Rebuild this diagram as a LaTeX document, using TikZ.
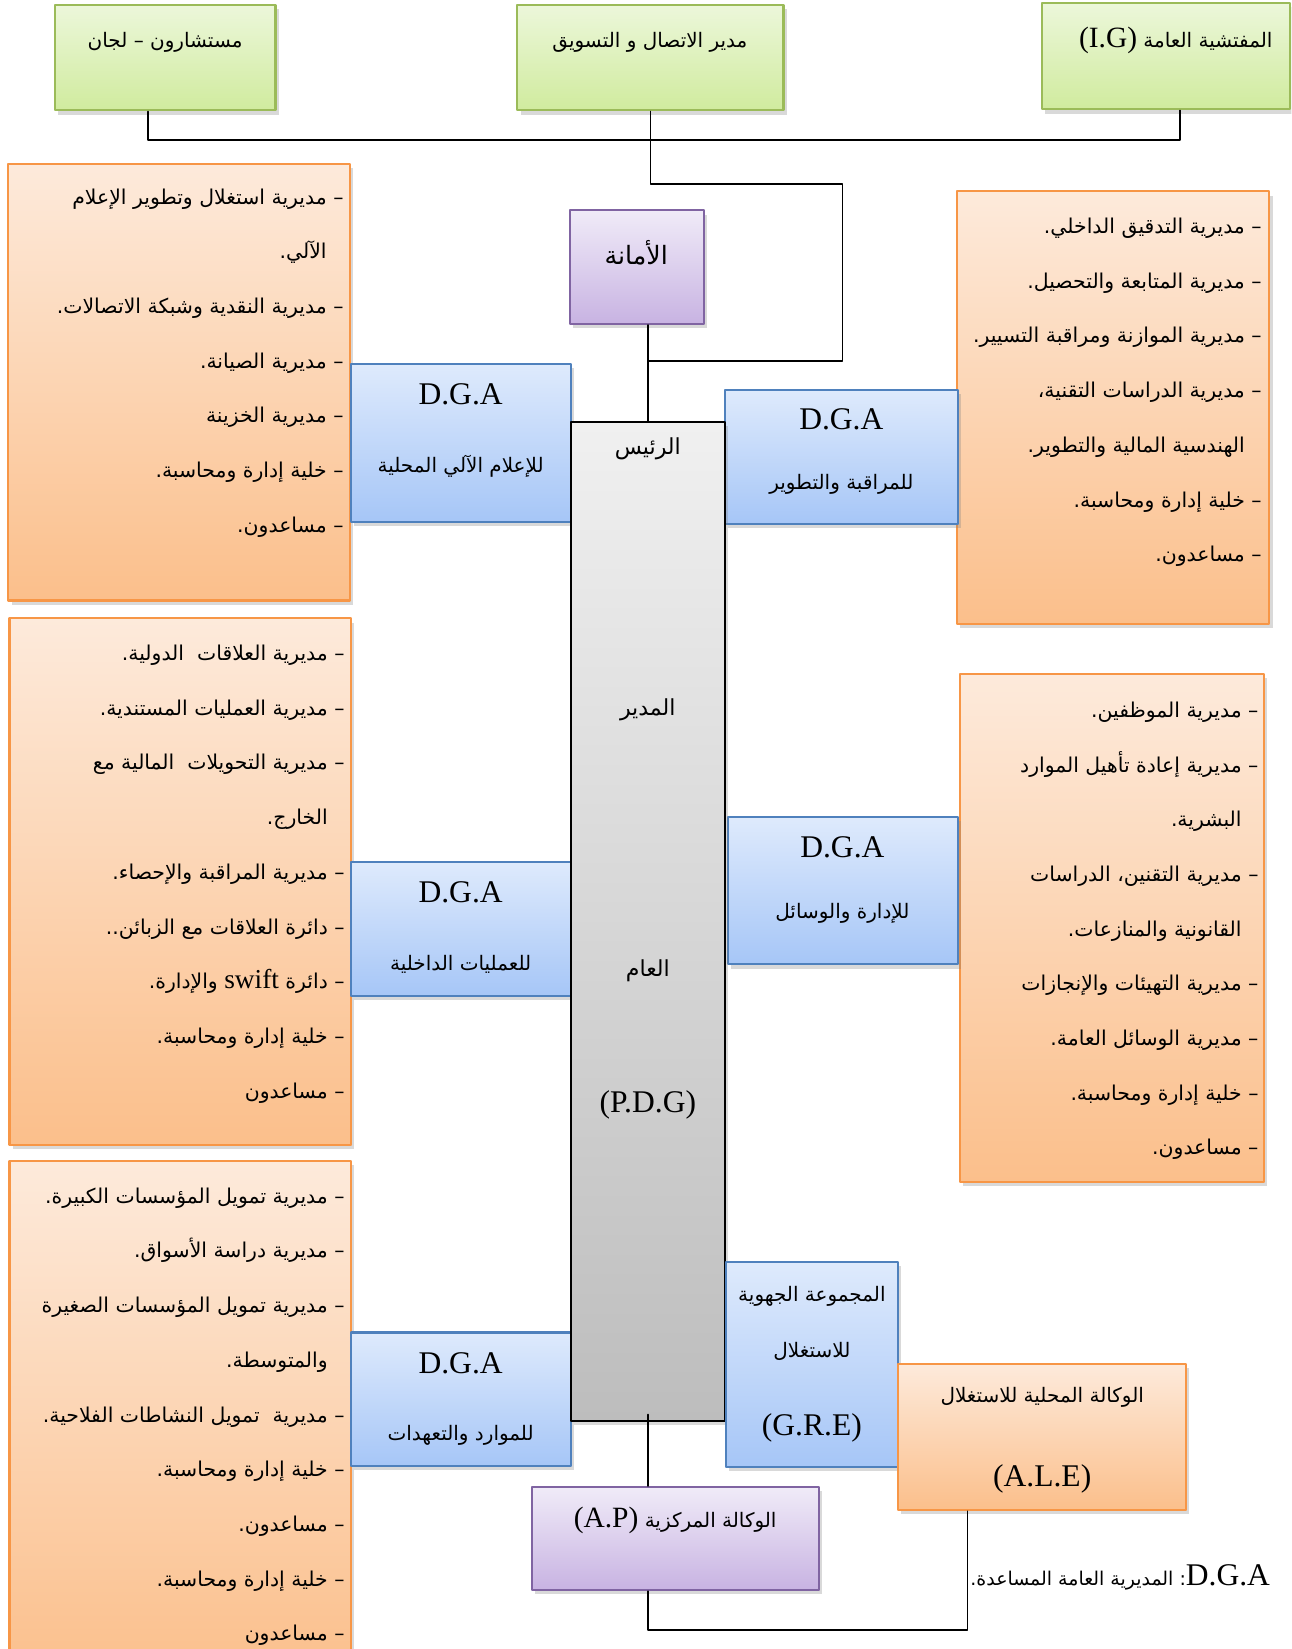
\documentclass[tikz,border=0pt]{standalone}
\usepackage{fontspec}
\setmainfont{Liberation Serif}
\newfontfamily\arabicfont[Script=Arabic]{DejaVu Sans}
\TeXXeTstate=1
\usetikzlibrary{fit,shadows}

\definecolor{greenline}{HTML}{9BBB59}
\definecolor{greentop}{HTML}{ECF7DA}
\definecolor{greenbot}{HTML}{D0EB9E}
\definecolor{blueline}{HTML}{4F81BD}
\definecolor{bluetop}{HTML}{DEEAFC}
\definecolor{bluebot}{HTML}{A6C6F7}
\definecolor{orangeline}{HTML}{F79646}
\definecolor{orangetop}{HTML}{FDEADB}
\definecolor{orangebot}{HTML}{FBBF8B}
\definecolor{purpleline}{HTML}{8064A2}
\definecolor{purpletop}{HTML}{F0EBF8}
\definecolor{purplebot}{HTML}{C8B3E2}
\definecolor{graytop}{HTML}{F0F0F0}
\definecolor{graybot}{HTML}{BDBDBD}

\newcommand{\artext}[1]{{\arabicfont\beginR #1\endR}}
\newcommand{\lattext}[1]{\beginL{\rmfamily #1}\endL}

\begin{document}
\begin{tikzpicture}[x=0.5pt,y=-0.5pt,line cap=round,line join=round,
  chartbox/.style={draw,line width=1pt,inner sep=0pt,
    drop shadow={opacity=0.3,shadow xshift=1.5pt,shadow yshift=-2pt}},
  greenbox/.style={chartbox,draw=greenline,top color=greentop,bottom color=greenbot},
  bluebox/.style={chartbox,draw=blueline,top color=bluetop,bottom color=bluebot},
  orangebox/.style={chartbox,draw=orangeline,top color=orangetop,bottom color=orangebot},
  purplebox/.style={chartbox,draw=purpleline,top color=purpletop,bottom color=purplebot},
  pdgbox/.style={chartbox,draw=black,top color=graytop,bottom color=graybot},
  listtext/.style={anchor=north east,inner sep=0pt,align=right,font=\fontsize{9.7}{26}\selectfont},
  boxtext/.style={inner sep=0pt,font=\fontsize{9.5}{11}\selectfont},
  dgatext/.style={inner sep=0pt,font=\fontsize{15}{18}\selectfont},
  link/.style={draw,line width=0.8pt}]
\useasboundingbox (0,0) rectangle (1228,1568);
\clip (0,0) rectangle (1228,1568);

% top row
\node[greenbox,fit={(52,5) (262,105)}] (cons) {};
\node[boxtext] (consT) at (157,40) {\artext{مستشارون – لجان}};
\node[greenbox,fit={(492,5) (745,105)}] (comm) {};
\node[boxtext] (commT) at (618,40) {\artext{مدير الاتصال و التسويق}};
\node[greenbox,fit={(991,3) (1227,104)}] (insp) {};
\node[boxtext] (inspT) at (1118,38) {\artext{المفتشية العامة \lattext{\fontsize{14}{16}\selectfont(I.G)}}};

% lists of directorates
\node[orangebox,fit={(8,156) (333,571)}] (boxInfo) {};
\node[listtext] (listInfo) at (327,179) {%
  \artext{– مديرية استغلال وتطوير الإعلام}\\
  \artext{\hspace{8pt}الآلي.}\\
  \artext{– مديرية النقدية وشبكة الاتصالات.}\\
  \artext{– مديرية الصيانة.}\\
  \artext{– مديرية الخزينة}\\
  \artext{– خلية إدارة ومحاسبة.}\\
  \artext{– مساعدون.}};
\node[orangebox,fit={(910,182) (1207,593)}] (boxCtrl) {};
\node[listtext] (listCtrl) at (1200,207) {%
  \artext{– مديرية التدقيق الداخلي.}\\
  \artext{– مديرية المتابعة والتحصيل.}\\
  \artext{– مديرية الموازنة ومراقبة التسيير.}\\
  \artext{– مديرية الدراسات التقنية،}\\
  \artext{\hspace{8pt}الهندسية المالية والتطوير.}\\
  \artext{– خلية إدارة ومحاسبة.}\\
  \artext{– مساعدون.}};
\node[orangebox,fit={(9,588) (334,1089)}] (boxOps) {};
\node[listtext] (listOps) at (328,613) {%
  \artext{– مديرية العلاقات\ \ الدولية.}\\
  \artext{– مديرية العمليات المستندية.}\\
  \artext{– مديرية التحويلات\ \ المالية مع}\\
  \artext{\hspace{8pt}الخارج.}\\
  \artext{– مديرية المراقبة والإحصاء.}\\
  \artext{– دائرة العلاقات مع الزبائن..}\\
  \artext{– دائرة \lattext{\fontsize{13}{15}\selectfont swift} والإدارة.}\\
  \artext{– خلية إدارة ومحاسبة.}\\
  \artext{– مساعدون}};
\node[orangebox,fit={(913,641) (1202,1124)}] (boxAdmin) {};
\node[listtext] (listAdmin) at (1197,667) {%
  \artext{– مديرية الموظفين.}\\
  \artext{– مديرية إعادة تأهيل الموارد}\\
  \artext{\hspace{8pt}البشرية.}\\
  \artext{– مديرية التقنين، الدراسات}\\
  \artext{\hspace{8pt}القانونية والمنازعات.}\\
  \artext{– مديرية التهيئات والإنجازات}\\
  \artext{– مديرية الوسائل العامة.}\\
  \artext{– خلية إدارة ومحاسبة.}\\
  \artext{– مساعدون.}};
\node[orangebox,fit={(9,1104) (334,1600)}] (boxRes) {};
\node[listtext] (listRes) at (328,1129) {%
  \artext{– مديرية تمويل المؤسسات الكبيرة.}\\
  \artext{– مديرية دراسة الأسواق.}\\
  \artext{– مديرية تمويل المؤسسات الصغيرة}\\
  \artext{\hspace{8pt}والمتوسطة.}\\
  \artext{– مديرية\ \ تمويل النشاطات الفلاحية.}\\
  \artext{– خلية إدارة ومحاسبة.}\\
  \artext{– مساعدون.}\\
  \artext{– خلية إدارة ومحاسبة.}\\
  \artext{– مساعدون}};

% general directorates
\node[bluebox,fit={(334,346) (543,496)}] (info) {};
\node[dgatext] (infoA) at (438,375) {D.G.A};
\node[boxtext] (infoB) at (438,443) {\artext{للإعلام الآلي المحلية}};
\node[bluebox,fit={(689,371) (911,498)}] (ctrl) {};
\node[dgatext] (ctrlA) at (800,399) {D.G.A};
\node[boxtext] (ctrlB) at (800,461) {\artext{للمراقبة والتطوير}};
\node[bluebox,fit={(334,820) (543,947)}] (ops) {};
\node[dgatext] (opsA) at (438,848) {D.G.A};
\node[boxtext] (opsB) at (438,917) {\artext{للعمليات الداخلية}};
\node[bluebox,fit={(692,777) (911,917)}] (admin) {};
\node[dgatext] (adminA) at (801,806) {D.G.A};
\node[boxtext] (adminB) at (801,868) {\artext{للإدارة والوسائل}};
\node[bluebox,fit={(334,1267) (543,1394)}] (res) {};
\node[dgatext] (resA) at (438,1296) {D.G.A};
\node[boxtext] (resB) at (438,1365) {\artext{للموارد والتعهدات}};

% centre
\node[purplebox,fit={(542,200) (669,308)}] (amana) {};
\node[boxtext,font=\fontsize{12}{14}\selectfont] (amanaT) at (605,240) {\artext{الأمانة}};
\node[pdgbox,fit={(543,401) (689,1351)}] (pdg) {};
\node[boxtext,font=\fontsize{10.5}{12}\selectfont] (pdgA) at (616,427) {\artext{الرئيس}};
\node[boxtext,font=\fontsize{10.5}{12}\selectfont] (pdgB) at (616,675) {\artext{المدير}};
\node[boxtext,font=\fontsize{10.5}{12}\selectfont] (pdgC) at (616,923) {\artext{العام}};
\node[dgatext] (pdgD) at (616,1051) {(P.D.G)};

% regional network
\node[bluebox,fit={(690,1200) (854,1395)}] (gre) {};
\node[boxtext] (greA) at (772,1233) {\artext{المجموعة الجهوية}};
\node[boxtext] (greB) at (772,1285) {\artext{للاستغلال}};
\node[dgatext] (greC) at (772,1358) {(G.R.E)};
\node[orangebox,fit={(854,1297) (1128,1436)}] (ale) {};
\node[boxtext] (aleA) at (991,1329) {\artext{الوكالة المحلية للاستغلال}};
\node[dgatext] (aleB) at (991,1406) {(A.L.E)};
\node[purplebox,fit={(506,1414) (779,1512)}] (ap) {};
\node[boxtext] (apT) at (642,1446) {\artext{الوكالة المركزية \lattext{\fontsize{14}{16}\selectfont(A.P)}}};

\node[boxtext,anchor=east,font=\fontsize{9}{11}\selectfont] (legend) at (1208,1500) {\artext{\lattext{\fontsize{15}{18}\selectfont D.G.A}: المديرية العامة المساعدة.}};

% connectors
\coordinate (busL) at (141,133);
\coordinate (busR) at (1122,133);
\coordinate (turnA) at (801,175);
\coordinate (turnB) at (801,343);
\coordinate (foot) at (920,1550);
\draw[link] (busL |- cons.south) -- (busL) -- (busR) -- (busR |- insp.south);
\draw[link] (comm.south) |- (turnA) -- (turnB) -| (pdg.north);
\draw[link] (pdg.north |- amana.south) -- (pdg.north);
\draw[link] ([yshift=3.5pt]pdg.south) -- (pdg.south |- ap.north);
\draw[link] (pdg.south |- ap.south) |- (foot) -- (foot |- ale.south);
\end{tikzpicture}
\end{document}
